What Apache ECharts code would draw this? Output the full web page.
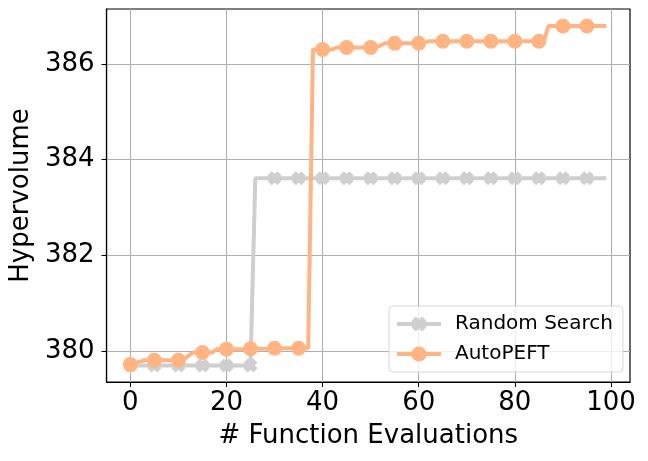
<!DOCTYPE html>
<html>
<head>
<meta charset="utf-8">
<script src="https://cdn.jsdelivr.net/npm/echarts@6/dist/echarts.min.js"></script>
<style>
  html, body { margin: 0; padding: 0; background: #fff; }
  #chart { width: 648px; height: 461px; }
</style>
</head>
<body>
<div id="chart"></div>
<script>
// evaluations 0..99, best hypervolume so far
var evaluations = [
  0, 1, 2, 3, 4, 5, 6, 7, 8, 9, 10, 11, 12, 13, 14, 15, 16, 17, 18, 19,
  20, 21, 22, 23, 24, 25, 26, 27, 28, 29, 30, 31, 32, 33, 34, 35, 36, 37, 38, 39,
  40, 41, 42, 43, 44, 45, 46, 47, 48, 49, 50, 51, 52, 53, 54, 55, 56, 57, 58, 59,
  60, 61, 62, 63, 64, 65, 66, 67, 68, 69, 70, 71, 72, 73, 74, 75, 76, 77, 78, 79,
  80, 81, 82, 83, 84, 85, 86, 87, 88, 89, 90, 91, 92, 93, 94, 95, 96, 97, 98, 99
];

var randomSearch = [
  379.70, 379.70, 379.70, 379.70, 379.70, 379.70, 379.70, 379.70, 379.70, 379.70,
  379.70, 379.70, 379.70, 379.70, 379.70, 379.70, 379.70, 379.70, 379.70, 379.70,
  379.70, 379.70, 379.70, 379.70, 379.70, 379.70, 383.61, 383.61, 383.61, 383.61,
  383.61, 383.61, 383.61, 383.61, 383.61, 383.61, 383.61, 383.61, 383.61, 383.61,
  383.61, 383.61, 383.61, 383.61, 383.61, 383.61, 383.61, 383.61, 383.61, 383.61,
  383.61, 383.61, 383.61, 383.61, 383.61, 383.61, 383.61, 383.61, 383.61, 383.61,
  383.61, 383.61, 383.61, 383.61, 383.61, 383.61, 383.61, 383.61, 383.61, 383.61,
  383.61, 383.61, 383.61, 383.61, 383.61, 383.61, 383.61, 383.61, 383.61, 383.61,
  383.61, 383.61, 383.61, 383.61, 383.61, 383.61, 383.61, 383.61, 383.61, 383.61,
  383.61, 383.61, 383.61, 383.61, 383.61, 383.61, 383.61, 383.61, 383.61, 383.61
];

var autoPEFT = [
  379.72, 379.75, 379.78, 379.81, 379.81, 379.81, 379.81, 379.81, 379.81, 379.81,
  379.81, 379.81, 379.90, 379.97, 379.97, 379.97, 379.97, 379.97, 380.04, 380.04,
  380.04, 380.04, 380.04, 380.04, 380.04, 380.05, 380.05, 380.05, 380.05, 380.05,
  380.06, 380.06, 380.06, 380.06, 380.06, 380.06, 380.06, 380.06, 386.30, 386.30,
  386.30, 386.30, 386.30, 386.34, 386.34, 386.34, 386.34, 386.34, 386.34, 386.34,
  386.34, 386.34, 386.38, 386.43, 386.43, 386.43, 386.43, 386.43, 386.43, 386.43,
  386.43, 386.43, 386.47, 386.47, 386.47, 386.47, 386.47, 386.47, 386.47, 386.47,
  386.47, 386.47, 386.47, 386.47, 386.47, 386.47, 386.47, 386.47, 386.47, 386.47,
  386.47, 386.47, 386.47, 386.47, 386.47, 386.47, 386.47, 386.79, 386.79, 386.79,
  386.79, 386.79, 386.79, 386.79, 386.79, 386.79, 386.79, 386.79, 386.79, 386.79
];

var xTicks = [0, 20, 40, 60, 80, 100];
var yTicks = [380, 382, 384, 386];

function pairs(xs, ys) {
  return xs.map(function (x, i) { return [x, ys[i]]; });
}

// marker on every 5th evaluation
function markEvery(size) {
  return function (val, params) {
    return params.dataIndex % 5 === 0 ? size : 0;
  };
}

var font = 'DejaVu Sans';
// chunky filled X like matplotlib 'X'
var xMark = 'path://M0,3 L3,0 L5,2 L7,0 L10,3 L8,5 L10,7 L7,10 L5,8 L3,10 L0,7 L2,5 Z';

var option = {
  animation: false,
  backgroundColor: '#fff',
  textStyle: { fontFamily: font },
  grid: {
    left: 106, right: 18, top: 9, bottom: 79,
    show: true, borderColor: '#000', borderWidth: 1.2, containLabel: false
  },
  legend: {
    left: 389, top: 306,
    orient: 'vertical',
    padding: [8, 10, 8, 6],
    itemWidth: 44, itemHeight: 19, itemGap: 10,
    backgroundColor: 'rgba(255,255,255,0.8)',
    borderColor: '#d6d6d6', borderWidth: 1, borderRadius: 4,
    lineStyle: { width: 4 },
    textStyle: { fontFamily: font, fontSize: 20, color: '#000', padding: [0, 0, 0, 9] },
    data: ['Random Search', 'AutoPEFT']
  },
  xAxis: {
    type: 'value',
    min: -4.95, max: 103.95,
    name: '# Function Evaluations',
    nameLocation: 'middle', nameGap: 41,
    nameTextStyle: { fontFamily: font, fontSize: 26, color: '#000' },
    axisLine: { show: true, onZero: false, lineStyle: { color: '#000', width: 1.2 } },
    axisTick: { show: true, length: 5, customValues: xTicks, lineStyle: { color: '#000', width: 1 } },
    axisLabel: { customValues: xTicks, margin: 8, fontFamily: font, fontSize: 26, color: '#000' },
    splitLine: { show: true, lineStyle: { color: '#b0b0b0', width: 1.1 } }
  },
  yAxis: {
    type: 'value',
    min: 379.355, max: 387.145,
    name: 'Hypervolume',
    nameLocation: 'middle', nameGap: 71,
    nameTextStyle: { fontFamily: font, fontSize: 26, color: '#000' },
    axisLine: { show: true, onZero: false, lineStyle: { color: '#000', width: 1.2 } },
    axisTick: { show: true, length: 5, customValues: yTicks, lineStyle: { color: '#000', width: 1 } },
    axisLabel: { customValues: yTicks, margin: 12, fontFamily: font, fontSize: 26, color: '#000' },
    splitLine: { show: true, lineStyle: { color: '#b0b0b0', width: 1.1 } }
  },
  series: [
    {
      name: 'Random Search',
      type: 'line',
      data: pairs(evaluations, randomSearch),
      symbol: xMark,
      symbolSize: markEvery(14),
      showAllSymbol: true,
      color: '#cfcfcf',
      lineStyle: { color: '#cfcfcf', width: 4 },
      itemStyle: { color: '#cfcfcf' },
      z: 2
    },
    {
      name: 'AutoPEFT',
      type: 'line',
      data: pairs(evaluations, autoPEFT),
      symbol: 'circle',
      symbolSize: markEvery(15),
      showAllSymbol: true,
      color: '#ffb482',
      lineStyle: { color: '#ffb482', width: 4 },
      itemStyle: { color: '#ffb482' },
      z: 3
    }
  ]
};

var myChart = echarts.init(document.getElementById('chart'));
myChart.setOption(option);
</script>
</body>
</html>
